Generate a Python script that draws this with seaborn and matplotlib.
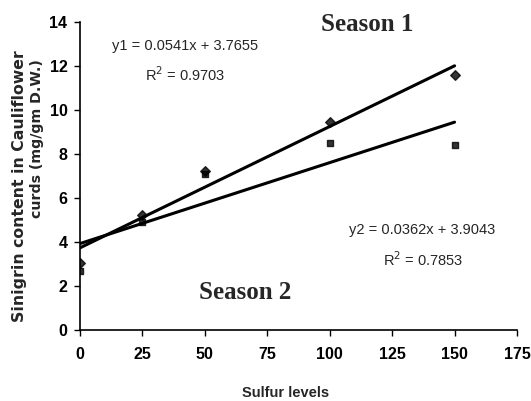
import matplotlib
matplotlib.use("Agg")
import matplotlib.pyplot as plt
import seaborn as sns
import pandas as pd

sulfur = [0, 25, 50, 100, 150]
season1 = [3.05, 5.25, 7.25, 9.45, 11.6]
season2 = [2.7, 4.9, 7.1, 8.5, 8.4]
x_ticks = [0, 25, 50, 75, 100, 125, 150, 175]
y_ticks = [0, 2, 4, 6, 8, 10, 12, 14]

sns.set_style("ticks")
plt.rcParams['font.family'] = ['Liberation Sans', 'DejaVu Sans']

df1 = pd.DataFrame({"x": sulfur, "y": season1})
df2 = pd.DataFrame({"x": sulfur, "y": season2})

fig = plt.figure(figsize=(5.31, 4.01), dpi=100)
ax = fig.add_axes([80/531, 1-330/401, 437/531, 308/401])

sns.regplot(data=df2, x="x", y="y", ax=ax, ci=None, marker="s", color="black",
            scatter_kws={"s": 24}, line_kws={"lw": 2.2})
sns.regplot(data=df1, x="x", y="y", ax=ax, ci=None, marker="D", color="black",
            scatter_kws={"s": 24}, line_kws={"lw": 2.2})

ax.set_xlim(0, 175)
ax.set_ylim(0, 14)
ax.set_xticks(x_ticks)
ax.set_yticks(y_ticks)
ax.tick_params(labelsize=11.5, length=4, width=1, colors="black")
for lab in ax.get_xticklabels() + ax.get_yticklabels():
    lab.set_fontweight("bold")
sns.despine(ax=ax)
for s in ["left", "bottom"]:
    ax.spines[s].set_linewidth(1.2)
    ax.spines[s].set_color("black")
ax.tick_params(axis="x", pad=8)
ax.tick_params(axis="y", pad=5)

ax.set_xlabel("Sulfur levels", fontsize=10.5, fontweight="bold")
ax.xaxis.set_label_coords((286 - 80) / 437, -(386 - 330) / 308)
ax.set_ylabel("")

fig.text(20 / 531, 1 - 186 / 401, "Sinigrin content in Cauliflower", rotation=90,
         fontsize=11.3, fontweight="bold", family="DejaVu Sans", ha="center", va="center")
fig.text(37 / 531, 1 - 139 / 401, "curds (mg/gm D.W.)", rotation=90,
         fontsize=10.2, fontweight="bold", family="DejaVu Sans", ha="center", va="center")

ax.text(115, 13.9, "Season 1", family="Liberation Serif", fontweight="bold", fontsize=18,
        ha="center", va="center")
ax.text(66, 1.7, "Season 2", family="Liberation Serif", fontweight="bold", fontsize=18,
        ha="center", va="center")
ax.text(42, 12.9, "y1 = 0.0541x + 3.7655", fontsize=10.5, ha="center", va="center")
ax.text(42, 11.6, "R$^2$ = 0.9703", fontsize=10.5, ha="center", va="center")
ax.text(137, 4.55, "y2 = 0.0362x + 3.9043", fontsize=10.5, ha="center", va="center")
ax.text(137.5, 3.2, "R$^2$ = 0.7853", fontsize=10.5, ha="center", va="center")

fig.savefig("out.png", dpi=100)
